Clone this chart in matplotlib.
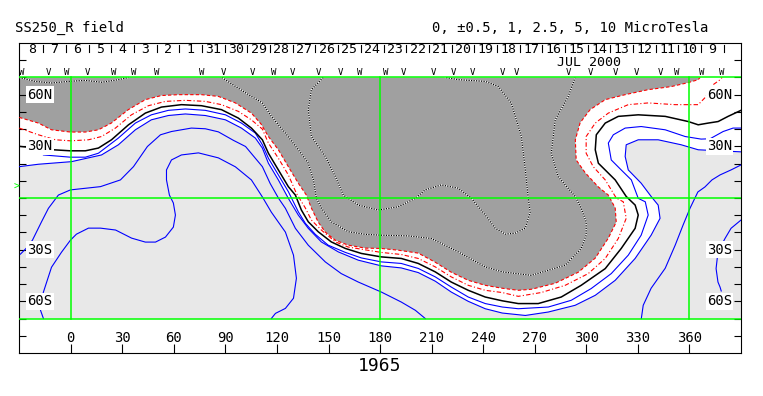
import matplotlib.pyplot as plt

plt.rcParams['font.family'] = ['DejaVu Sans Mono', 'DejaVu Sans']

# ---- contour lines: longitude / latitude pairs ----
# -1 uT (red dashed, edge of the dark region)
m10_lon = [-30, -18.8, -11.2, -0.2, 8.5, 16.1, 23.6, 33.5, 43.4, 52.8, 62.6, 76.0, 85.9, 95.8, 105.1, 110.7,
           115.0, 120.8, 126.6, 132.4, 137.1, 140.0, 144.0, 148.1, 153.9, 161.5, 171.4, 180.7, 190.5, 202.2,
           212.1, 221.4, 231.3, 241.2, 251.1, 260.4, 268.0, 281.9, 295.3, 305.2, 312.8, 317.4, 316.8, 312.8,
           307.0, 299.4, 294.1, 293.6, 296.4, 302.2, 311.0, 322.6, 336.0, 349.4, 359.3, 365.1, 366.2]
m10_lat = [46.8, 43.5, 39.6, 38.3, 38.3, 39.6, 43.5, 51.3, 57.1, 59.5, 60.0, 60.0, 59.0, 55.2, 49.3, 43.0,
           35.7, 28.0, 18.2, 8.6, 1.7, -5.8, -14.0, -19.8, -24.5, -27.4, -29.1, -29.3, -30.3, -32.0,
           -37.3, -43.1, -47.8, -50.7, -52.4, -53.6, -53.0, -49.5, -43.1, -34.9, -23.3, -14.0, -5.8, 1.7,
           6.4, 14.6, 22.1, 33.8, 43.7, 51.3, 57.1, 60.0, 62.9, 64.7, 67.0, 68.7, 70.0]

# -0.5 uT (red dash-dot)
m05_lon = [-30, -18.8, -8.9, -0.2, 10.3, 17.9, 26.0, 35.3, 45.2, 55.1, 66.7, 78.3, 87.7, 97.5, 105.1, 111.5,
           115.0, 120.8, 126.6, 131.3, 136.5, 140.0, 145.8, 154.0, 161.5, 180.7, 192.3, 202.2, 212.1, 221.4,
           231.3, 241.2, 251.1, 260.4, 273.7, 287.7, 301.1, 311.0, 318.6, 323.2, 321.5, 317.4, 311.0, 304.0,
           299.9, 299.9, 305.2, 312.8, 324.4, 336.0, 351.7, 365.1, 369.1, 373.8, 377.9, 379.0]
m05_lat = [40.6, 36.7, 33.8, 33.2, 33.8, 35.7, 40.6, 48.3, 53.6, 56.1, 56.7, 56.1, 54.2, 50.3, 45.4, 40.0,
           31.9, 23.1, 13.4, 2.7, -5.8, -12.8, -18.6, -25.5, -28.5, -31.6, -32.8, -35.1, -40.0, -45.8,
           -50.7, -53.6, -54.9, -57.1, -54.9, -50.7, -43.9, -35.1, -23.5, -11.8, -2.2, 0.0, 10.5, 18.2,
           26.0, 35.7, 43.5, 49.3, 54.2, 55.2, 54.2, 54.2, 58.3, 65.8, 68.7, 70.0]

# 0 uT (black, neutral line)
z_lon = [-30, -10.1, -0.2, 8.5, 16.1, 23.7, 33.6, 43.4, 52.8, 64.4, 76.0, 87.7, 97.5, 105.1, 111.5, 115.0,
         120.8, 126.6, 130.7, 134.2, 138.2, 144.0, 151.6, 159.8, 169.1, 180.7, 192.3, 202.2, 212.1, 221.4,
         231.3, 241.2, 251.1, 260.4, 272.0, 285.4, 297.0, 311.0, 320.3, 328.4, 330.2, 328.4, 323.2, 316.8,
         307.0, 305.2, 305.8, 311.0, 318.6, 330.2, 345.9, 359.3, 365.1, 370.9, 376.7, 382.5, 390]
z_lat = [30.0, 28.0, 27.4, 27.4, 29.0, 33.8, 42.5, 49.3, 52.8, 54.2, 53.6, 51.3, 46.4, 40.6, 33.8, 26.0,
         16.3, 6.6, 1.7, -7.0, -13.8, -19.6, -25.5, -29.3, -32.2, -34.2, -35.1, -38.0, -42.9, -48.8,
         -53.6, -57.5, -59.7, -61.3, -61.3, -57.5, -50.7, -41.0, -29.3, -17.6, -9.9, -4.1, 0.9, 10.5,
         20.2, 28.0, 36.7, 43.5, 47.4, 48.3, 47.4, 44.4, 42.5, 43.5, 44.4, 47.4, 50.9]

# +0.5 uT (blue)
p05_lon = [-15.9, -0.2, 8.5, 16.1, 27.7, 37.6, 46.9, 56.8, 66.7, 78.3, 90.0, 99.3, 107.4, 111.5, 115.0,
           120.8, 126.6, 132.4, 136.5, 142.3, 149.8, 159.8, 169.1, 180.7, 192.3, 202.2, 212.1, 221.4, 231.3,
           241.2, 251.1, 260.4, 277.9, 291.2, 302.8, 314.5, 324.4, 331.9, 336.0, 334.3, 330.2, 326.2, 320.3,
           314.5, 312.8, 315.7, 322.6, 331.9, 345.9, 357.5, 366.8, 372.0, 379.6, 385.4, 390]
p05_lat = [25.0, 23.7, 23.7, 26.0, 34.8, 43.5, 48.3, 50.9, 51.7, 50.9, 48.3, 43.5, 37.7, 30.9, 23.1,
           13.4, 3.7, -8.0, -14.7, -21.1, -27.4, -31.6, -34.8, -37.1, -38.0, -40.9, -45.8, -51.7, -57.5,
           -61.3, -63.3, -64.3, -63.3, -59.4, -52.6, -43.9, -33.2, -21.6, -9.9, -2.2, -0.2, 10.5, 16.3,
           22.1, 31.9, 36.7, 40.6, 41.5, 39.6, 35.7, 34.2, 34.4, 38.6, 40.6, 40.6]

# +1 uT (blue, edge of the light region)
p10_lon = [-30, -18.8, 0.4, 17.9, 27.7, 37.6, 46.9, 56.8, 66.7, 78.3, 90.0, 99.3, 107.4, 111.5, 115.0,
           120.8, 126.6, 132.4, 138.2, 145.8, 155.7, 167.3, 180.7, 192.3, 202.2, 212.1, 221.4, 231.3, 241.2,
           251.1, 264.5, 277.9, 293.5, 305.2, 316.8, 328.4, 337.7, 342.9, 341.8, 337.7, 331.9, 324.4, 322.6,
           323.2, 330.2, 341.8, 355.2, 365.1, 390]
p10_lat = [18.2, 19.6, 21.1, 25.0, 30.9, 39.6, 45.4, 47.9, 48.8, 47.9, 45.4, 40.6, 34.8, 29.0, 20.2,
           10.5, -0.2, -9.9, -17.6, -25.5, -31.3, -36.1, -39.4, -40.6, -43.3, -48.3, -54.6, -60.0, -64.3,
           -66.8, -68.2, -66.2, -62.3, -56.5, -47.8, -35.1, -21.6, -11.8, -4.1, 0.9, 8.6, 16.3, 24.1,
           30.9, 33.8, 33.8, 30.9, 28.0, 26.8]

# +2.5 uT (blue)
p25_lon = [-29.3, -25.8, -22.3, -17.0, -13.0, -7.2, -0.2, 17.3, 28.9, 36.5, 44.6, 52.2, 58.6, 70.2, 78.3,
           85.9, 94.6, 101.7, 111.5, 116.0, 120.8, 124.9, 130.7, 138.2, 148.1, 157.4, 167.3, 180.7, 192.3,
           200.5, 206.3]
p25_lat = [-32.6, -29.1, -24.5, -13.8, -6.0, 1.7, 4.7, 6.6, 10.5, 18.2, 29.9, 36.7, 38.6, 40.6, 40.2,
           38.4, 33.5, 29.9, 18.2, 8.5, 0.0, -6.0, -17.6, -27.4, -37.1, -43.9, -48.8, -54.6, -60.4,
           -65.2, -70]

# +5 uT (blue)
p50_lon = [-15.9, -17.6, -17.0, -15.9, -11.2, -5.4, -0.2, 3.3, 10.3, 17.3, 26.1, 35.4, 43.4, 49.3, 55.1,
           59.7, 60.9, 59.7, 57.4, 55.7, 55.7, 58.6, 64.4, 74.3, 85.9, 95.8, 105.1, 111.5, 116.7, 124.9,
           129.6, 131.3, 129.6, 124.9, 119.1, 116.7]
p50_lat = [-70, -65.2, -59.4, -54.6, -40.2, -31.5, -24.5, -21.0, -17.5, -17.5, -18.6, -23.3, -25.6, -25.6,
           -22.7, -16.9, -9.9, -2.9, 1.7, 10.5, 16.3, 22.1, 25.0, 26.2, 23.3, 18.1, 10.5, 0.6, -8.2, -19.8,
           -33.2, -46.6, -58.2, -64.1, -67.0, -70]

# further blue lines near the right edge
p25b_lon = [332.0, 333.1, 337.7, 345.9, 351.7, 356.3, 360.4, 364.9, 369.0, 373.1, 377.8, 384.2, 390]
p25b_lat = [-70, -62.3, -52.4, -40.8, -27.4, -15.7, -5.8, 3.5, 6.4, 10.5, 13.4, 16.3, 19.2]
p50b_lon = [390, 384.2, 380.7, 376.6, 375.5, 376.6, 377.8, 378.5]
p50b_lat = [-12.8, -17.6, -23.5, -31.3, -41.0, -48.8, -51.7, -54.0]

# -2.5 / -5 uT (dotted, inside the dark region)
m25a_lon = [-30, -20.7, -11.1, -1.3, 8.4, 18.0, 27.7, 33.6]
m25a_lat = [70, 67.7, 66.8, 67.7, 68.3, 67.2, 68.7, 70]
m25_lon = [88.0, 95.8, 105.1, 111.5, 116.7, 124.9, 132.4, 138.2, 141.2, 142.9, 145.8, 151.6, 161.5, 171.4,
           180.7, 196.4, 209.8, 225.5, 241.2, 251.1, 268.0, 287.7, 297.0, 299.9, 299.9, 297.0, 293.5, 283.6,
           279.6, 281.9, 289.5, 293.5]
m25_lat = [70, 64.8, 59.0, 55.2, 47.4, 37.7, 28.0, 20.2, 10.5, 0.0, -5.8, -13.8, -19.6, -21.1,
           -21.6, -22.0, -23.5, -31.3, -40.0, -42.9, -44.9, -39.0, -29.3, -21.6, -13.8, -6.0, 0.9, 12.4,
           26.0, 45.4, 59.0, 70]
m50_lon = [146.9, 140.0, 138.2, 140.0, 148.1, 154.0, 158.6, 167.3, 178.9, 190.5, 200.4, 206.2, 215.6, 225.5,
           233.0, 241.2, 246.9, 252.8, 258.6, 264.5, 267.3, 266.2, 264.5, 262.2, 256.3, 248.8, 241.2, 225.5,
           217.9]
m50_lat = [70, 62.9, 51.3, 35.7, 24.1, 12.4, 1.7, -4.1, -7.0, -5.1, -0.2, 4.7, 7.6, 5.7,
           0, -9.9, -17.5, -21.0, -20.4, -17.5, -8.2, 0, 16.3, 35.7, 55.2, 64.8, 67.7, 68.7, 70]

# ---- axis annotations ----
lon_ticks = [0, 30, 60, 90, 120, 150, 180, 210, 240, 270, 300, 330, 360]
lat_labels = {60: '60N', 30: '30N', -30: '30S', -60: '60S'}
days = [8, 7, 6, 5, 4, 3, 2, 1, 31, 30, 29, 28, 27, 26, 25, 24, 23, 22, 21, 20,
        19, 18, 17, 16, 15, 14, 13, 12, 11, 10, 9]
day8_lon = -22.6            # longitude at the middle of 8 Jul
deg_per_day = 360 / 27.2753  # synodic rotation
mark_lon = [-28.3, -13.1, -2.5, 9.9, 25.0, 36.6, 50.2, 76.0, 88.6, 105.9, 118.1, 128.9, 144.2, 156.9,
            168.1, 183.0, 193.7, 211.1, 222.8, 234.0, 250.9, 259.6, 289.6, 302.3, 316.8, 329.0, 343.0,
            352.7, 367.2, 378.9]
mark_sym = ['W', 'V', 'W', 'V', 'W', 'W', 'W', 'W', 'V', 'V', 'W', 'V', 'V', 'V',
            'W', 'W', 'V', 'V', 'V', 'V', 'V', 'V', 'V', 'V', 'V', 'V', 'V',
            'W', 'W', 'W']

W, H = 763, 396
fig = plt.figure(figsize=(W / 100, H / 100), dpi=100)
ax = fig.add_axes([19.2 / W, 1 - 353 / H, 721.8 / W, 310 / H])
ax.set_xlim(-30, 390)
ax.set_ylim(-90, 90)

dark = '#a0a0a0'
light = '#e8e8e8'
green = '#00ff00'

# shaded regions
ax.fill([-30] + m10_lon + [m10_lon[-1]], [70] + m10_lat + [70], color=dark, lw=0, zorder=1)
ax.fill(p10_lon + [390, -30], p10_lat + [-70, -70], color=light, lw=0, zorder=1)

# contours
for lo, la in [(p05_lon, p05_lat), (p10_lon, p10_lat), (p25_lon, p25_lat), (p50_lon, p50_lat),
               (p25b_lon, p25b_lat), (p50b_lon, p50b_lat)]:
    ax.plot(lo, la, color='blue', lw=0.8, zorder=3)
for lo, la in [(m25a_lon, m25a_lat), (m25_lon, m25_lat), (m50_lon, m50_lat)]:
    ax.plot(lo, la, color='white', lw=0.9, zorder=3)
    ax.plot(lo, la, color='black', lw=0.9, ls=(0, (1, 1)), zorder=3)
ax.plot(m10_lon, m10_lat, color='red', lw=0.8, ls=(0, (3, 2)), zorder=3)
ax.plot(m05_lon, m05_lat, color='red', lw=0.8, ls=(0, (4, 2, 1, 2)), zorder=3)
ax.plot(z_lon, z_lat, color='black', lw=1.1, zorder=3)

# grid
for la in [70, 0, -70]:
    ax.plot([-30, 390], [la, la], color=green, lw=1.1, zorder=4)
for lo in [0, 180, 360]:
    ax.plot([lo, lo], [-70, 70], color=green, lw=1.1, zorder=4)

# ticks
ax.set_yticks(range(-80, 81, 10))
ax.set_xticks(lon_ticks)
ax.tick_params(axis='y', direction='in', length=5, width=0.8, left=True, right=True,
               labelleft=False, labelright=False)
ax.tick_params(axis='x', direction='in', length=6.5, width=0.8, bottom=True, top=False,
               labelbottom=False)
for s in ax.spines.values():
    s.set_linewidth(0.8)

lab = dict(fontsize=10, va='center', zorder=5,
           bbox=dict(fc='white', ec='none', pad=1.0))
for la, t in lat_labels.items():
    ax.text(-25.3, la, t, ha='left', **lab)
    ax.text(384.8, la, t, ha='right', **lab)
for lo in lon_ticks:
    ax.text(lo, -81, str(lo), ha='center', va='center', fontsize=10)

# date row along the top
for i, d in enumerate(days):
    c = day8_lon + i * deg_per_day
    ax.text(c, 86.0, str(d), ha='center', va='center', fontsize=9.5)
    b = c + deg_per_day / 2
    if b < 390:
        ax.plot([b, b], [88.6, 85.0], color='black', lw=0.8)
ax.text(301.3, 78.4, 'JUL 2000', ha='center', va='center', fontsize=9.5)
for lo, s in zip(mark_lon, mark_sym):
    ax.text(lo, 72.6, s, ha='center', va='center', fontsize=6.5)

ax.text(-31.6, 6.3, '>', color=green, ha='center', va='center', fontsize=7, clip_on=False)

fig.text(15 / W, 1 - 27.5 / H, 'SS250_R field', ha='left', va='center', fontsize=10)
fig.text(432 / W, 1 - 27.5 / H, '0, \u00b10.5, 1, 2.5, 5, 10 MicroTesla', ha='left', va='center', fontsize=10)
fig.text(380 / W, 1 - 366 / H, '1965', ha='center', va='center', fontsize=13)

fig.savefig('out.png', dpi=100)
